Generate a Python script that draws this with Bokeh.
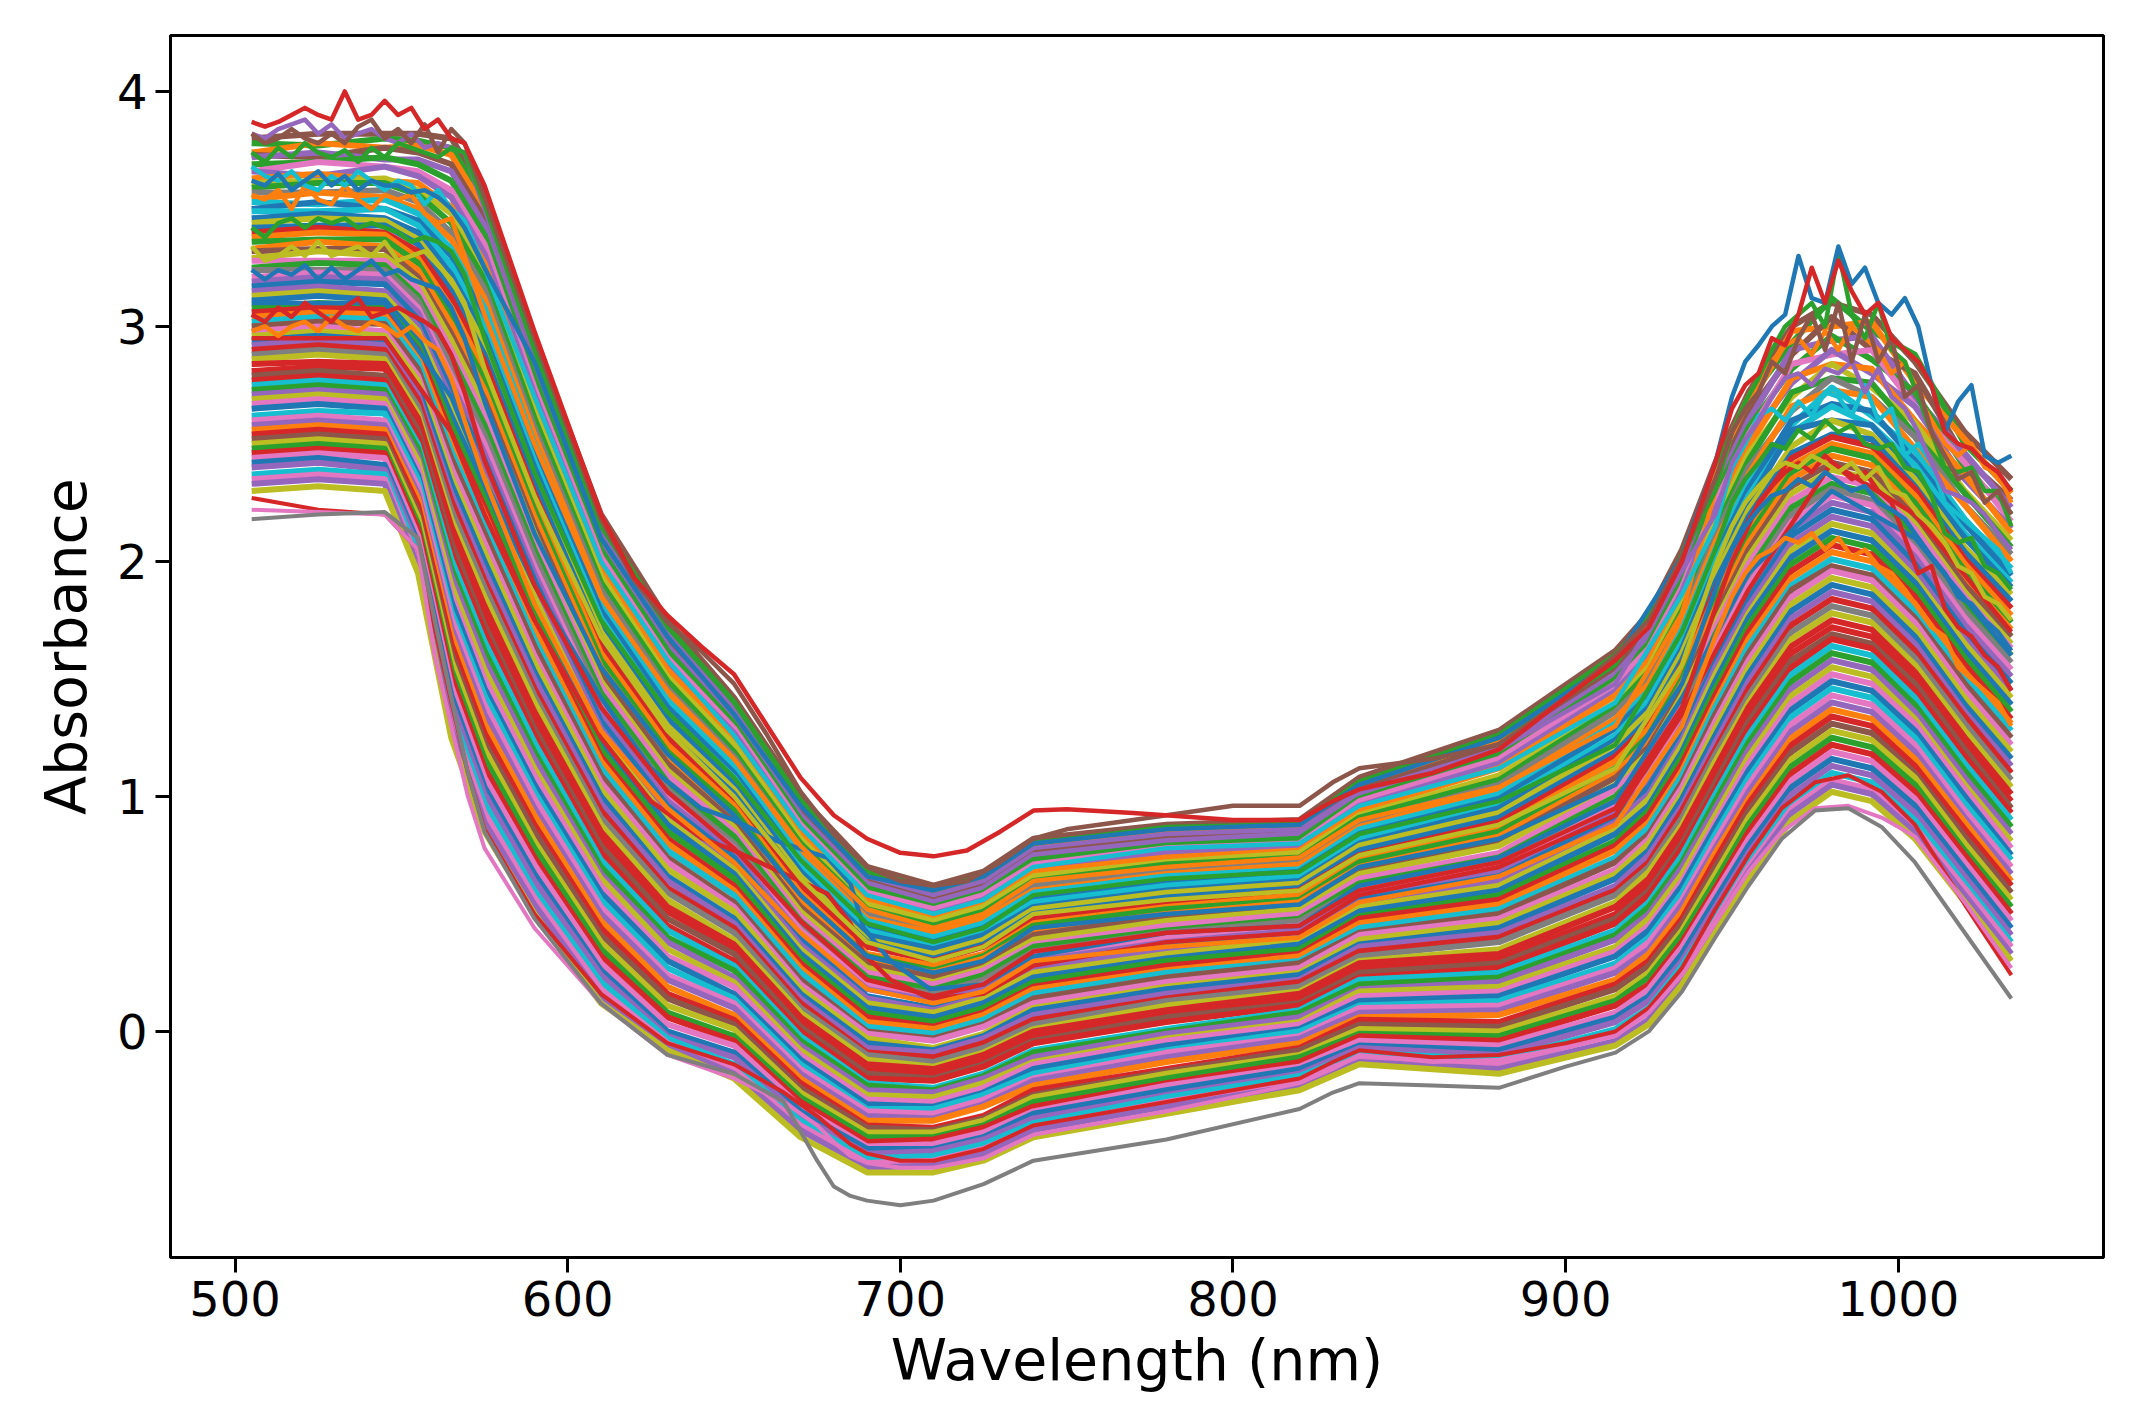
from bokeh.plotting import figure
from bokeh.embed import file_html
from bokeh.resources import INLINE
from bokeh.models import FixedTicker, Range1d

# Main bundle: at these wavelengths (nm), top of the bundle to bottom
wl = [505,525,545,555,565,575,590,610,630,650,670,690,710,725,740,780,820,838,880,915,925,935,945,955,968,980,992,1005,1020,1034]
s00 = [3.80,3.82,3.82,3.82,3.80,3.58,2.95,2.20,1.75,1.42,1.00,.70,.62,.68,.82,.88,.90,1.08,1.28,1.62,1.78,2.05,2.42,2.72,3.00,3.10,3.05,2.85,2.55,2.35]
s01 = [3.78,3.77,3.80,3.79,3.76,3.54,2.92,2.17,1.72,1.40,.98,.68,.60,.66,.80,.86,.88,1.06,1.26,1.60,1.75,2.02,2.39,2.69,2.93,3.12,2.98,2.88,2.50,2.30]
s02 = [3.74,3.78,3.76,3.77,3.73,3.50,2.88,2.14,1.70,1.38,.96,.66,.59,.65,.78,.85,.87,1.05,1.24,1.57,1.73,2.00,2.36,2.66,2.98,3.00,3.02,2.76,2.52,2.29]
s03 = [3.73,3.72,3.76,3.74,3.69,3.46,2.85,2.11,1.67,1.35,.94,.65,.57,.63,.77,.83,.85,1.03,1.22,1.55,1.70,1.97,2.34,2.63,2.88,3.04,2.90,2.80,2.44,2.26]
s04 = [3.72,3.74,3.71,3.71,3.66,3.43,2.81,2.08,1.64,1.33,.92,.63,.55,.61,.75,.81,.84,1.01,1.20,1.52,1.68,1.95,2.31,2.60,2.90,2.94,2.96,2.70,2.46,2.23]
s05 = [3.69,3.70,3.72,3.69,3.62,3.39,2.78,2.05,1.62,1.31,.90,.61,.53,.59,.73,.79,.82,.99,1.18,1.50,1.65,1.92,2.28,2.57,2.82,2.96,2.86,2.72,2.40,2.20]
s06 = [3.66,3.70,3.68,3.66,3.58,3.35,2.74,2.02,1.59,1.29,.88,.59,.52,.58,.71,.78,.80,.98,1.16,1.48,1.63,1.89,2.25,2.54,2.84,2.88,2.90,2.66,2.42,2.17]
s07 = [3.66,3.64,3.68,3.64,3.55,3.31,2.71,1.99,1.56,1.27,.86,.57,.50,.56,.69,.76,.79,.96,1.14,1.45,1.60,1.87,2.22,2.52,2.76,2.90,2.80,2.66,2.35,2.14]
s08 = [3.63,3.65,3.62,3.61,3.51,3.27,2.67,1.97,1.54,1.24,.84,.56,.48,.54,.68,.74,.77,.94,1.12,1.43,1.58,1.84,2.19,2.49,2.78,2.84,2.82,2.60,2.37,2.12]
s09 = [3.61,3.62,3.63,3.58,3.48,3.23,2.64,1.94,1.51,1.22,.82,.54,.47,.53,.66,.72,.76,.92,1.09,1.40,1.55,1.82,2.17,2.46,2.70,2.84,2.74,2.59,2.30,2.09]
s10 = [3.59,3.61,3.61,3.56,3.44,3.20,2.61,1.91,1.49,1.19,.80,.52,.45,.51,.64,.71,.74,.91,1.07,1.38,1.53,1.79,2.14,2.43,2.72,2.78,2.76,2.54,2.29,2.06]
s11 = [3.57,3.57,3.58,3.53,3.40,3.16,2.57,1.88,1.46,1.17,.78,.50,.43,.49,.62,.69,.72,.89,1.05,1.36,1.50,1.76,2.11,2.40,2.64,2.78,2.70,2.53,2.24,2.03]
s12 = [3.54,3.57,3.55,3.50,3.37,3.12,2.54,1.85,1.43,1.15,.76,.48,.42,.48,.60,.67,.71,.87,1.03,1.33,1.48,1.74,2.08,2.37,2.66,2.73,2.70,2.48,2.24,2.00]
s13 = [3.53,3.52,3.54,3.48,3.33,3.08,2.50,1.82,1.41,1.13,.74,.47,.40,.46,.59,.66,.69,.86,1.01,1.31,1.45,1.71,2.05,2.34,2.58,2.74,2.62,2.47,2.18,1.97]
s14 = [3.50,3.53,3.50,3.45,3.30,3.04,2.47,1.79,1.38,1.10,.72,.45,.38,.44,.57,.64,.68,.84,.99,1.29,1.43,1.69,2.02,2.31,2.60,2.67,2.64,2.43,2.16,1.94]
s15 = [3.49,3.49,3.50,3.43,3.26,3.00,2.43,1.76,1.35,1.08,.70,.43,.36,.42,.55,.62,.66,.82,.97,1.26,1.41,1.66,2.00,2.28,2.55,2.66,2.58,2.41,2.12,1.91]
s16 = [3.46,3.48,3.46,3.40,3.22,2.96,2.40,1.73,1.33,1.06,.68,.41,.35,.41,.53,.60,.64,.80,.95,1.24,1.38,1.63,1.97,2.25,2.56,2.60,2.58,2.37,2.10,1.89]
s17 = [3.44,3.46,3.45,3.37,3.19,2.92,2.36,1.70,1.30,1.03,.66,.39,.33,.39,.52,.59,.63,.79,.93,1.22,1.36,1.61,1.94,2.22,2.49,2.60,2.54,2.35,2.06,1.86]
s18 = [3.42,3.43,3.43,3.35,3.15,2.88,2.33,1.67,1.27,1.01,.64,.38,.31,.37,.50,.57,.61,.77,.91,1.19,1.33,1.58,1.91,2.19,2.46,2.54,2.52,2.32,2.04,1.83]
s19 = [3.40,3.42,3.40,3.32,3.12,2.85,2.29,1.64,1.25,.99,.62,.36,.30,.36,.48,.55,.60,.75,.89,1.17,1.31,1.56,1.88,2.17,2.44,2.53,2.49,2.31,2.01,1.80]
s20 = [3.38,3.40,3.39,3.29,3.08,2.81,2.26,1.61,1.22,.96,.59,.33,.28,.33,.46,.53,.58,.74,.87,1.15,1.29,1.53,1.86,2.14,2.41,2.50,2.46,2.28,1.99,1.77]
s21 = [3.36,3.37,3.37,3.27,3.04,2.77,2.22,1.58,1.19,.94,.57,.32,.26,.32,.45,.52,.56,.72,.85,1.12,1.26,1.50,1.83,2.11,2.38,2.48,2.44,2.25,1.96,1.74]
s22 = [3.33,3.36,3.34,3.24,3.01,2.73,2.19,1.55,1.17,.91,.55,.30,.25,.31,.43,.50,.55,.70,.83,1.10,1.24,1.48,1.80,2.08,2.35,2.45,2.41,2.22,1.93,1.71]
s23 = [3.32,3.33,3.33,3.21,2.97,2.69,2.15,1.52,1.14,.89,.53,.29,.23,.29,.41,.49,.53,.68,.81,1.08,1.21,1.45,1.77,2.05,2.32,2.42,2.38,2.19,1.90,1.68]
s24 = [3.29,3.32,3.30,3.19,2.94,2.66,2.12,1.49,1.11,.87,.51,.27,.21,.27,.39,.47,.52,.67,.79,1.05,1.19,1.43,1.74,2.02,2.29,2.39,2.35,2.16,1.87,1.65]
s25 = [3.28,3.28,3.28,3.16,2.90,2.62,2.08,1.47,1.09,.85,.49,.25,.20,.26,.37,.45,.50,.65,.76,1.03,1.16,1.40,1.72,1.99,2.26,2.36,2.32,2.14,1.85,1.63]
s26 = [3.25,3.27,3.26,3.13,2.87,2.58,2.05,1.44,1.06,.83,.47,.23,.18,.24,.36,.43,.48,.63,.74,1.00,1.14,1.37,1.69,1.96,2.23,2.33,2.29,2.11,1.82,1.60]
s27 = [3.24,3.24,3.24,3.11,2.83,2.54,2.02,1.41,1.03,.80,.45,.21,.16,.22,.34,.42,.47,.61,.72,.98,1.11,1.35,1.66,1.93,2.20,2.31,2.26,2.08,1.79,1.57]
s28 = [3.21,3.23,3.22,3.08,2.79,2.50,1.98,1.38,1.01,.78,.43,.20,.14,.20,.32,.40,.45,.60,.70,.96,1.09,1.32,1.63,1.90,2.17,2.28,2.24,2.05,1.76,1.54]
s29 = [3.19,3.21,3.20,3.06,2.76,2.46,1.95,1.35,.98,.76,.41,.18,.13,.19,.30,.38,.43,.58,.68,.93,1.06,1.30,1.60,1.87,2.14,2.25,2.21,2.02,1.73,1.51]
s30 = [3.17,3.19,3.18,3.03,2.72,2.43,1.92,1.32,.96,.74,.39,.15,.10,.16,.28,.36,.41,.56,.66,.91,1.04,1.27,1.57,1.84,2.11,2.22,2.18,1.99,1.70,1.48]
s31 = [3.15,3.17,3.15,3.00,2.69,2.39,1.88,1.29,.93,.71,.37,.14,.09,.15,.27,.35,.40,.55,.64,.89,1.01,1.24,1.55,1.81,2.08,2.19,2.15,1.96,1.67,1.45]
s32 = [3.13,3.15,3.13,2.98,2.65,2.35,1.85,1.26,.90,.69,.35,.12,.08,.14,.25,.33,.39,.53,.62,.86,.99,1.22,1.52,1.78,2.05,2.16,2.12,1.93,1.65,1.42]
s33 = [3.11,3.13,3.11,2.95,2.62,2.31,1.81,1.23,.88,.67,.33,.10,.06,.12,.23,.31,.37,.51,.60,.84,.96,1.19,1.49,1.76,2.02,2.13,2.09,1.91,1.62,1.39]
s34 = [3.08,3.10,3.09,2.92,2.58,2.27,1.78,1.20,.85,.65,.31,.08,.04,.10,.21,.30,.35,.49,.58,.81,.94,1.17,1.46,1.73,1.99,2.10,2.06,1.88,1.59,1.36]
s35 = [3.06,3.08,3.07,2.90,2.54,2.23,1.74,1.17,.82,.62,.29,.06,.02,.08,.19,.28,.33,.48,.56,.79,.92,1.14,1.43,1.70,1.96,2.07,2.03,1.85,1.56,1.33]
s36 = [3.04,3.06,3.05,2.87,2.51,2.20,1.71,1.15,.80,.60,.27,.04,.01,.07,.18,.26,.32,.46,.54,.77,.89,1.11,1.40,1.67,1.93,2.04,2.00,1.82,1.53,1.31]
s37 = [3.02,3.04,3.03,2.85,2.47,2.16,1.67,1.12,.77,.58,.25,.02,-.01,.05,.16,.25,.30,.44,.52,.74,.87,1.09,1.38,1.64,1.90,2.01,1.97,1.79,1.51,1.28]
s38 = [3.00,3.02,3.01,2.82,2.44,2.12,1.64,1.09,.74,.55,.22,.00,-.03,.03,.14,.23,.29,.42,.50,.72,.84,1.06,1.35,1.61,1.88,1.98,1.94,1.76,1.48,1.25]
s39 = [2.98,3.00,2.98,2.79,2.40,2.08,1.60,1.06,.72,.53,.20,-.01,-.04,.02,.12,.21,.27,.41,.48,.69,.82,1.04,1.32,1.58,1.85,1.96,1.92,1.74,1.45,1.22]
s40 = [2.96,2.98,2.96,2.77,2.36,2.04,1.57,1.03,.69,.51,.18,-.03,-.07,-.01,.10,.19,.25,.39,.46,.67,.80,1.01,1.29,1.55,1.82,1.93,1.89,1.71,1.42,1.19]
s41 = [2.94,2.96,2.94,2.74,2.33,2.00,1.53,1.00,.66,.48,.16,-.05,-.08,-.02,.09,.18,.24,.37,.44,.65,.77,.99,1.26,1.52,1.79,1.90,1.86,1.68,1.39,1.16]
s42 = [2.92,2.94,2.92,2.71,2.29,1.96,1.50,.97,.64,.46,.14,-.07,-.09,-.03,.07,.16,.22,.36,.42,.62,.75,.96,1.23,1.49,1.76,1.87,1.83,1.65,1.36,1.13]
s43 = [2.90,2.92,2.90,2.69,2.26,1.92,1.46,.94,.61,.44,.12,-.09,-.11,-.05,.05,.14,.21,.34,.40,.60,.72,.94,1.20,1.46,1.73,1.84,1.80,1.62,1.34,1.10]
s44 = [2.88,2.90,2.88,2.66,2.22,1.89,1.43,.91,.59,.42,.10,-.10,-.13,-.07,.03,.13,.19,.32,.38,.58,.70,.91,1.18,1.43,1.70,1.81,1.77,1.59,1.31,1.07]
s45 = [2.86,2.88,2.86,2.63,2.18,1.85,1.40,.88,.56,.39,.08,-.12,-.15,-.09,.01,.11,.17,.30,.35,.55,.68,.88,1.15,1.40,1.67,1.78,1.74,1.56,1.28,1.04]
s46 = [2.84,2.85,2.84,2.61,2.15,1.81,1.36,.85,.53,.37,.06,-.14,-.16,-.10,.00,.09,.16,.29,.33,.53,.65,.86,1.12,1.38,1.64,1.75,1.71,1.53,1.25,1.01]
s47 = [2.81,2.83,2.82,2.58,2.11,1.77,1.33,.82,.51,.35,.04,-.16,-.18,-.12,-.02,.07,.14,.27,.31,.50,.63,.83,1.09,1.35,1.61,1.72,1.68,1.51,1.22,.98]
s48 = [2.79,2.81,2.79,2.56,2.08,1.73,1.29,.79,.48,.33,.02,-.18,-.20,-.14,-.04,.06,.12,.25,.29,.48,.60,.80,1.06,1.32,1.58,1.69,1.65,1.48,1.20,.95]
s49 = [2.77,2.79,2.77,2.53,2.04,1.70,1.26,.76,.45,.30,.00,-.20,-.21,-.15,-.05,.04,.11,.23,.27,.46,.58,.78,1.03,1.29,1.55,1.67,1.63,1.45,1.17,.93]
s50 = [2.75,2.77,2.75,2.50,2.01,1.66,1.23,.73,.43,.28,-.02,-.22,-.24,-.18,-.08,.01,.09,.22,.25,.43,.55,.75,1.01,1.26,1.52,1.64,1.60,1.42,1.14,.90]
s51 = [2.73,2.75,2.73,2.48,1.97,1.62,1.19,.70,.40,.26,-.04,-.23,-.25,-.19,-.09,.00,.08,.20,.23,.41,.53,.72,.98,1.23,1.49,1.61,1.57,1.39,1.11,.87]
s52 = [2.71,2.73,2.71,2.45,1.94,1.58,1.16,.67,.38,.23,-.06,-.25,-.26,-.20,-.11,-.01,.06,.18,.21,.39,.50,.70,.95,1.20,1.46,1.58,1.54,1.36,1.08,.84]
s53 = [2.69,2.71,2.69,2.43,1.90,1.54,1.12,.65,.35,.21,-.08,-.27,-.28,-.22,-.13,-.03,.04,.17,.19,.36,.48,.67,.92,1.17,1.43,1.55,1.51,1.33,1.05,.81]
s54 = [2.67,2.69,2.67,2.40,1.86,1.50,1.09,.62,.32,.19,-.10,-.29,-.30,-.24,-.14,-.04,.03,.15,.17,.34,.45,.64,.89,1.14,1.40,1.52,1.48,1.31,1.03,.78]
s55 = [2.65,2.67,2.65,2.37,1.83,1.46,1.05,.59,.30,.16,-.12,-.31,-.32,-.26,-.16,-.06,.01,.13,.15,.32,.43,.62,.87,1.11,1.37,1.49,1.45,1.28,1.00,.75]
s56 = [2.62,2.64,2.63,2.35,1.79,1.43,1.02,.56,.27,.14,-.14,-.33,-.33,-.27,-.18,-.08,.00,.11,.13,.29,.40,.59,.84,1.08,1.34,1.46,1.42,1.25,.97,.73]
s57 = [2.60,2.62,2.60,2.32,1.76,1.39,.99,.53,.24,.12,-.16,-.34,-.35,-.29,-.20,-.09,-.02,.10,.11,.27,.38,.56,.81,1.05,1.31,1.43,1.39,1.22,.94,.70]
s58 = [2.58,2.60,2.58,2.29,1.72,1.35,.95,.50,.22,.10,-.18,-.36,-.37,-.31,-.21,-.11,-.03,.08,.09,.25,.35,.54,.78,1.02,1.28,1.40,1.36,1.19,.91,.67]
s59 = [2.56,2.58,2.56,2.27,1.69,1.31,.92,.47,.19,.07,-.20,-.38,-.38,-.32,-.23,-.13,-.05,.06,.07,.22,.33,.51,.76,.99,1.25,1.37,1.33,1.16,.89,.64]
s60 = [2.54,2.56,2.54,2.24,1.65,1.27,.88,.44,.16,.05,-.22,-.40,-.41,-.36,-.25,-.16,-.07,.05,.04,.20,.30,.48,.73,.97,1.22,1.34,1.30,1.13,.86,.62]
s61 = [2.52,2.54,2.52,2.21,1.61,1.23,.85,.41,.14,.03,-.24,-.41,-.42,-.37,-.27,-.17,-.08,.03,.02,.18,.28,.46,.70,.94,1.19,1.31,1.27,1.10,.83,.59]
s62 = [2.50,2.52,2.50,2.19,1.58,1.20,.81,.38,.11,.01,-.26,-.43,-.43,-.38,-.28,-.18,-.10,.01,.00,.15,.25,.43,.67,.91,1.16,1.28,1.24,1.08,.80,.56]
s63 = [2.48,2.50,2.48,2.16,1.54,1.16,.78,.35,.08,-.02,-.28,-.45,-.45,-.40,-.30,-.20,-.11,-.01,-.02,.13,.23,.41,.64,.88,1.13,1.25,1.21,1.05,.77,.53]
s64 = [2.46,2.48,2.46,2.14,1.51,1.12,.74,.32,.06,-.04,-.30,-.47,-.46,-.41,-.32,-.22,-.13,-.02,-.04,.11,.20,.38,.61,.85,1.10,1.22,1.18,1.02,.75,.50]
s65 = [2.44,2.46,2.44,2.11,1.47,1.08,.71,.29,.03,-.06,-.32,-.49,-.48,-.43,-.34,-.23,-.15,-.04,-.06,.08,.18,.36,.59,.82,1.07,1.19,1.15,.99,.72,.47]
s66 = [2.42,2.44,2.41,2.08,1.43,1.04,.67,.26,.00,-.09,-.34,-.50,-.50,-.45,-.35,-.25,-.16,-.06,-.08,.06,.15,.33,.56,.79,1.04,1.16,1.12,.96,.69,.44]
s67 = [2.40,2.42,2.39,2.06,1.40,1.01,.64,.24,-.02,-.11,-.36,-.52,-.51,-.46,-.37,-.27,-.18,-.07,-.10,.04,.13,.30,.53,.76,1.01,1.13,1.09,.93,.66,.41]
s68 = [2.37,2.39,2.37,2.03,1.36,.97,.60,.21,-.03,-.14,-.38,-.54,-.53,-.48,-.39,-.28,-.19,-.09,-.12,.01,.10,.28,.50,.73,.98,1.10,1.06,.90,.63,.38]
s69 = [2.35,2.37,2.35,2.00,1.33,.93,.57,.18,-.05,-.16,-.40,-.56,-.55,-.50,-.41,-.30,-.21,-.11,-.14,-.01,.08,.25,.47,.70,.95,1.07,1.03,.87,.61,.36]
s70 = [2.33,2.35,2.33,1.98,1.29,.89,.54,.15,-.06,-.18,-.42,-.58,-.57,-.52,-.42,-.32,-.23,-.13,-.16,-.04,.05,.23,.45,.68,.93,1.05,1.01,.85,.58,.33]
s71 = [2.30,2.32,2.30,1.95,1.25,.85,.50,.12,-.08,-.20,-.45,-.60,-.60,-.55,-.45,-.35,-.25,-.14,-.18,-.06,.03,.20,.42,.65,.90,1.02,.98,.82,.55,.30]
bundle = [s00,s01,s02,s03,s04,s05,s06,s07,s08,s09,s10,s11,s12,s13,s14,s15,s16,s17,s18,s19,s20,s21,s22,s23,
          s24,s25,s26,s27,s28,s29,s30,s31,s32,s33,s34,s35,s36,s37,s38,s39,s40,s41,s42,s43,s44,s45,s46,s47,
          s48,s49,s50,s51,s52,s53,s54,s55,s56,s57,s58,s59,s60,s61,s62,s63,s64,s65,s66,s67,s68,s69,s70,s71]
bundle_names = ["brown","green","orange","brown","purple","green","pink","purple","orange","olive","green","grey",
                "orange","cyan","blue","cyan","blue","olive","blue","red","orange","green","orange","brown",
                "olive","pink","green","grey","pink","purple","blue","purple","olive","blue","green","red",
                "orange","cyan","brown","pink","olive","blue","purple","red","grey","olive","red","red",
                "brown","red","cyan","green","purple","olive","pink","blue","cyan","pink","purple","orange",
                "red","brown","olive","green","red","pink","blue","purple","cyan","pink","purple","olive"]

# Jagged outer spectra, finer wavelength grid
wl_fine = [505,509,513,517,521,525,529,533,537,541,545,549,553,557,561,565,569,
           575,590,610,630,650,670,690,710,725,740,780,820,838,880,915,935,
           945,950,954,958,962,966,970,974,978,982,986,990,994,998,1002,1006,1010,1014,1018,1022,1026,1030,1034]
n_orange2 = [2.98,3.00,2.96,3.00,3.02,2.98,3.04,3.00,2.98,3.02,3.00,2.96,3.00,2.94,2.90,2.78,2.60,2.35,1.82,1.28,.95,.72,.42,.18,.12,.17,.30,.36,.40,.55,.66,.88,1.30,1.68,1.85,1.95,2.02,2.05,2.10,2.08,2.12,2.05,2.10,2.02,2.05,1.98,1.95,1.88,1.80,1.72,1.68,1.55,1.50,1.45,1.40,1.30]
n_red2 = [3.05,3.02,3.08,3.04,3.10,3.06,3.02,3.08,3.12,3.04,3.06,3.08,3.05,3.02,2.98,2.88,2.72,2.43,1.90,1.38,1.02,.78,.47,.22,.15,.20,.34,.42,.45,.60,.72,.95,1.38,1.80,2.00,2.12,2.25,2.32,2.38,2.42,2.38,2.45,2.40,2.35,2.38,2.30,2.25,2.10,1.95,1.98,1.80,1.72,1.68,1.60,1.55,1.45]
n_blue2 = [3.24,3.20,3.24,3.22,3.26,3.20,3.25,3.20,3.24,3.28,3.22,3.24,3.20,3.18,3.16,3.08,2.95,2.68,2.12,1.55,1.18,.92,.58,.32,.25,.30,.44,.50,.54,.70,.82,1.05,1.48,1.88,2.05,2.15,2.22,2.28,2.30,2.35,2.32,2.38,2.34,2.30,2.32,2.25,2.22,2.18,2.10,2.02,1.95,1.85,1.82,1.75,1.70,1.62]
n_olive = [3.34,3.28,3.30,3.34,3.30,3.36,3.30,3.32,3.34,3.30,3.36,3.28,3.30,3.32,3.26,3.20,3.10,2.82,2.28,1.68,1.28,1.00,.65,.38,.30,.36,.50,.56,.60,.75,.88,1.12,1.56,1.98,2.15,2.25,2.32,2.38,2.42,2.40,2.45,2.42,2.38,2.42,2.35,2.40,2.30,2.28,2.20,2.15,2.08,1.98,1.95,1.85,1.82,1.75]
n_green2 = [3.42,3.38,3.44,3.46,3.42,3.46,3.44,3.46,3.42,3.44,3.42,3.40,3.36,3.38,3.36,3.32,3.22,2.95,2.38,1.75,1.36,1.08,.73,.46,.38,.44,.58,.65,.68,.84,.98,1.22,1.70,2.05,2.25,2.35,2.42,2.50,2.48,2.56,2.52,2.60,2.55,2.58,2.50,2.48,2.50,2.40,2.38,2.28,2.12,2.08,2.10,1.98,1.95,1.88]
n_orange = [3.56,3.54,3.58,3.50,3.60,3.54,3.52,3.60,3.54,3.50,3.56,3.54,3.56,3.48,3.44,3.46,3.30,3.05,2.50,1.85,1.45,1.16,.79,.52,.44,.50,.64,.70,.74,.90,1.04,1.30,1.78,2.30,2.55,2.68,2.78,2.85,2.92,2.95,2.88,2.98,2.90,3.00,2.95,2.90,2.80,2.85,2.70,2.60,2.50,2.45,2.50,2.40,2.38,2.25]
n_cyan = [3.68,3.64,3.62,3.66,3.60,3.58,3.64,3.60,3.66,3.62,3.58,3.62,3.60,3.52,3.58,3.50,3.45,3.25,2.70,2.00,1.58,1.26,.87,.58,.50,.56,.70,.78,.80,.96,1.12,1.40,1.86,2.15,2.40,2.50,2.62,2.65,2.60,2.68,2.62,2.72,2.70,2.62,2.75,2.60,2.65,2.45,2.50,2.42,2.25,2.20,2.15,2.10,2.05,1.95]
n_purple = [3.82,3.80,3.84,3.86,3.88,3.82,3.86,3.80,3.82,3.84,3.80,3.78,3.82,3.76,3.78,3.76,3.74,3.50,2.88,2.13,1.70,1.38,.96,.66,.58,.64,.78,.84,.86,1.02,1.20,1.48,1.96,2.20,2.42,2.52,2.60,2.70,2.78,2.80,2.75,2.82,2.80,2.85,2.72,2.82,2.70,2.65,2.55,2.42,2.30,2.28,2.25,2.20,2.12,2.05]
n_green = [3.74,3.70,3.76,3.72,3.78,3.74,3.72,3.75,3.70,3.76,3.72,3.78,3.76,3.74,3.72,3.76,3.74,3.52,2.90,2.15,1.72,1.40,.98,.68,.60,.66,.80,.87,.88,1.06,1.25,1.56,2.02,2.30,2.55,2.68,2.78,2.90,3.00,3.05,3.10,3.00,3.32,3.05,2.95,3.10,2.90,2.85,2.70,2.55,2.40,2.38,2.40,2.30,2.30,2.15]
n_blue = [3.62,3.60,3.65,3.58,3.62,3.66,3.60,3.64,3.58,3.62,3.60,3.60,3.57,3.58,3.55,3.50,3.42,3.25,2.85,2.10,1.68,1.35,.96,.66,.60,.66,.80,.86,.88,1.05,1.25,1.58,2.02,2.42,2.70,2.85,2.92,3.00,3.05,3.30,3.12,3.10,3.34,3.18,3.25,3.10,3.05,3.12,3.00,2.75,2.55,2.68,2.75,2.45,2.42,2.45]
fine_lines = [n_orange2,n_red2,n_blue2,n_olive,n_green2,n_orange,n_cyan,n_purple,n_green,n_blue]
fine_names = ["orange","red","blue","olive","green","orange","cyan","purple","green","blue"]

# The two highest spectra, with more points through the valley
wl_top = [505,509,513,517,521,525,529,533,537,541,545,549,553,557,561,565,569,
          575,590,610,620,630,640,650,660,670,680,690,700,710,720,730,740,750,770,800,820,830,838,860,880,900,915,925,935,
          945,950,954,958,962,966,970,974,978,982,986,990,994,998,1002,1006,1010,1014,1018,1022,1026,1030,1034]
t_brown = [3.82,3.78,3.80,3.84,3.80,3.78,3.82,3.78,3.85,3.88,3.80,3.84,3.78,3.86,3.74,3.84,3.78,3.55,2.95,2.18,1.92,1.74,1.62,1.48,1.26,1.02,.84,.70,.64,.62,.64,.72,.82,.86,.90,.96,.96,1.06,1.12,1.16,1.22,1.42,1.60,1.75,2.02,2.35,2.55,2.65,2.72,2.85,2.80,2.95,3.05,2.90,3.10,2.85,3.05,2.85,2.95,2.70,2.75,2.55,2.45,2.35,2.38,2.25,2.30,2.20]
t_red = [3.87,3.85,3.87,3.90,3.93,3.90,3.88,4.00,3.88,3.90,3.96,3.90,3.93,3.84,3.88,3.80,3.78,3.60,2.98,2.20,1.93,1.77,1.64,1.52,1.30,1.08,.92,.82,.76,.745,.77,.85,.94,.945,.93,.90,.90,.98,1.03,1.10,1.20,1.42,1.58,1.72,2.00,2.42,2.65,2.75,2.80,2.95,2.92,3.05,3.25,3.10,3.28,3.15,3.05,3.10,2.95,2.90,2.85,2.75,2.55,2.50,2.48,2.42,2.38,2.30]

# Two spectra that cut across the bundle near 640-700 nm
wl_cross = [505,545,565,575,590,610,625,640,650,663,678,685,689,697,709,725,740,780,820,838,880,915,935,955,980,1005,1034]
x_blue = [3.10,3.10,2.70,2.35,1.90,1.42,1.12,.95,.90,.81,.74,.63,.44,.30,.18,.20,.32,.42,.45,.62,.74,.98,1.42,1.95,2.30,2.10,1.60]
x_red = [2.95,2.95,2.55,2.20,1.75,1.25,.98,.825,.77,.685,.587,.46,.33,.22,.14,.16,.28,.38,.42,.58,.70,.92,1.35,1.88,2.42,2.20,1.70]

# Lowest spectra
wl_low = [505,525,545,555,560,565,570,575,590,610,630,650,665,675,680,685,690,700,710,725,740,780,820,830,838,860,880,900,915,925,935,945,955,965,975,985,995,1005,1020,1034]
low_red = [2.27,2.22,2.20,2.05,1.72,1.40,1.10,.86,.50,.16,-.05,-.14,-.26,-.36,-.42,-.48,-.52,-.55,-.55,-.50,-.40,-.30,-.20,-.13,-.08,-.11,-.10,-.05,.00,.10,.27,.52,.75,.95,1.06,1.09,1.02,.88,.54,.24]
low_pink = [2.22,2.21,2.20,2.05,1.60,1.30,1.00,.78,.44,.12,-.10,-.20,-.30,-.40,-.47,-.53,-.56,-.58,-.58,-.54,-.44,-.34,-.22,-.16,-.10,-.13,-.12,-.07,-.02,.08,.24,.46,.68,.85,.95,.96,.91,.83,.55,.27]
low_grey = [2.18,2.20,2.21,2.10,1.75,1.42,1.10,.85,.48,.12,-.10,-.18,-.30,-.55,-.66,-.70,-.72,-.74,-.72,-.65,-.55,-.46,-.33,-.26,-.22,-.23,-.24,-.15,-.09,.00,.17,.40,.62,.82,.94,.95,.87,.72,.42,.14]

tick_x = [500,600,700,800,900,1000]
tick_y = [0,1,2,3,4]
palette = {"blue":"#1f77b4","orange":"#ff7f0e","green":"#2ca02c","red":"#d62728","purple":"#9467bd",
           "brown":"#8c564b","pink":"#e377c2","grey":"#7f7f7f","olive":"#bcbd22","cyan":"#17becf"}

p = figure(width=2113, height=1407, output_backend="svg", toolbar_location=None,
           x_range=Range1d(480.6, 1061.7), y_range=Range1d(-0.962, 4.238),
           min_border_left=170, min_border_right=10, min_border_top=35, min_border_bottom=150)
p.grid.visible = False
p.background_fill_color = "white"
p.border_fill_color = "white"
p.outline_line_color = "black"
p.outline_line_width = 3

for ys, name in zip(bundle, bundle_names):
    p.line(wl, ys, line_color=palette[name], line_width=6, line_join="round")
for ys, name in zip([x_red, x_blue], ["red", "blue"]):
    p.line(wl_cross, ys, line_color=palette[name], line_width=4.5, line_join="round")
for ys, name in zip(fine_lines, fine_names):
    p.line(wl_fine, ys, line_color=palette[name], line_width=4.5, line_join="round")
for ys, name in zip([t_brown, t_red], ["brown", "red"]):
    p.line(wl_top, ys, line_color=palette[name], line_width=4.5, line_join="round")
for ys, name in zip([low_red, low_pink, low_grey], ["red", "pink", "grey"]):
    p.line(wl_low, ys, line_color=palette[name], line_width=4, line_join="round")

for ax, ticks, label, standoff in ((p.xaxis[0], tick_x, "Wavelength (nm)", 8), (p.yaxis[0], tick_y, "Absorbance", 15)):
    ax.ticker = FixedTicker(ticks=ticks)
    ax.minor_tick_line_color = None
    ax.major_tick_in = 0
    ax.major_tick_out = 15
    ax.major_tick_line_width = 3
    ax.major_tick_line_color = "black"
    ax.axis_line_width = 3
    ax.axis_line_color = "black"
    ax.major_label_text_font = "DejaVu Sans"
    ax.major_label_text_font_size = "48px"
    ax.major_label_text_color = "black"
    ax.major_label_standoff = 8
    ax.axis_label = label
    ax.axis_label_text_font = "DejaVu Sans"
    ax.axis_label_text_font_size = "57px"
    ax.axis_label_text_font_style = "normal"
    ax.axis_label_text_color = "black"
    ax.axis_label_standoff = standoff

open("out.html", "w").write(file_html(p, INLINE))
